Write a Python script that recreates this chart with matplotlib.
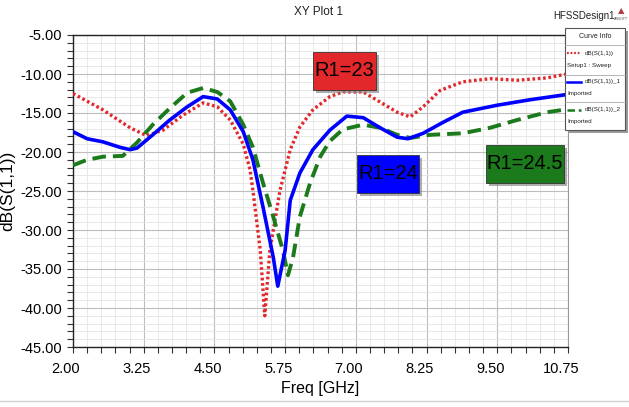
import matplotlib
matplotlib.use("Agg")
import matplotlib.pyplot as plt
from matplotlib.ticker import FixedLocator, MultipleLocator, FormatStrFormatter
from matplotlib.patches import Rectangle
from matplotlib.lines import Line2D
import matplotlib.transforms as mtransforms

plt.rcParams['font.family'] = ['Liberation Sans', 'DejaVu Sans']

# ---- data ----
freq_r1_23 = [2.00, 2.53, 3.01, 3.30, 3.59, 3.94, 4.30, 4.55, 4.78, 5.01, 5.13, 5.18, 5.31, 5.39,
              5.48, 5.66, 5.84, 6.01, 6.24, 6.54, 6.77, 7.13, 7.43, 7.73, 7.96, 8.19, 8.49,
              8.89, 9.37, 9.85, 10.38, 10.66, 10.75]
db_r1_23 = [-12.5, -14.6, -16.9, -17.9, -17.2, -15.3, -13.7, -14.2, -15.9, -19.0, -22.3, -24.9, -32.6, -41.0,
            -32.6, -24.9, -19.7, -16.8, -14.6, -12.9, -12.3, -12.3, -13.6, -14.9, -15.5, -14.2, -12.1,
            -11.0, -10.6, -10.8, -10.5, -10.1, -10.0]

freq_r1_24 = [2.00, 2.25, 2.53, 2.83, 3.01, 3.13, 3.41, 3.71, 4.02, 4.30, 4.55, 4.78, 5.01, 5.18,
              5.36, 5.54, 5.62, 5.75, 5.84, 6.01, 6.24, 6.54, 6.84, 7.13, 7.43, 7.73, 7.92,
              8.19, 8.54, 8.89, 9.50, 10.08, 10.66, 10.75]
db_r1_24 = [-17.4, -18.3, -18.7, -19.4, -19.7, -19.5, -17.8, -15.9, -14.2, -12.9, -13.2, -14.6, -17.4, -21.0,
            -27.1, -33.5, -37.2, -32.6, -26.2, -22.7, -19.7, -17.2, -15.4, -15.6, -16.9, -18.1, -18.3,
            -17.6, -16.2, -14.9, -14.0, -13.3, -12.7, -12.6]

freq_r1_245 = [2.00, 2.25, 2.53, 2.88, 3.13, 3.41, 3.71, 4.02, 4.30, 4.55, 4.78, 5.01, 5.18, 5.36,
               5.54, 5.71, 5.80, 5.89, 6.01, 6.19, 6.37, 6.54, 6.77, 7.13, 7.43, 7.73, 7.96,
               8.31, 8.89, 9.37, 9.85, 10.38, 10.66, 10.75]
db_r1_245 = [-21.7, -21.0, -20.6, -20.5, -18.8, -16.5, -14.4, -12.4, -11.8, -12.3, -13.5, -16.5, -19.4, -24.0,
             -28.3, -32.6, -35.8, -33.5, -28.3, -24.0, -20.6, -18.6, -17.1, -16.5, -16.9, -17.8, -18.2,
             -17.8, -17.6, -16.9, -15.9, -14.9, -14.6, -14.5]

x_limits = [2.00, 10.75]
y_limits = [-45.0, -5.0]
x_ticks = [2.00, 3.25, 4.50, 5.75, 7.00, 8.25, 9.50, 10.75]
y_ticks = [-45.0, -40.0, -35.0, -30.0, -25.0, -20.0, -15.0, -10.0, -5.0]
annot_labels = ["R1=23", "R1=24", "R1=24.5"]
legend_names = ["dB(S(1,1))", "dB(S(1,1))_1", "dB(S(1,1))_2"]
legend_sub = ["Setup1 : Sweep", "Imported", "Imported"]

RED = "#e3282c"
BLUE = "#0000ff"
GREEN = "#1b7a1b"

W, H = 629, 407
fig = plt.figure(figsize=(W / 100, H / 100), dpi=100)
fig.patch.set_facecolor("white")
ax = fig.add_axes([73 / W, 1 - 347 / H, (568 - 73) / W, (347 - 35) / H])

ax.plot(freq_r1_23, db_r1_23, color=RED, lw=2.4, linestyle=(0, (0.8, 0.8)), zorder=3)
ax.plot(freq_r1_24, db_r1_24, color=BLUE, lw=2.6, linestyle="-", zorder=4)
ax.plot(freq_r1_245, db_r1_245, color=GREEN, lw=2.8, linestyle=(0, (3.5, 1.8)), zorder=3)

ax.set_xlim(*x_limits)
ax.set_ylim(*y_limits)
ax.xaxis.set_major_locator(FixedLocator(x_ticks))
ax.xaxis.set_minor_locator(MultipleLocator(0.25))
ax.yaxis.set_major_locator(FixedLocator(y_ticks))
ax.yaxis.set_minor_locator(MultipleLocator(1))
ax.xaxis.set_major_formatter(FormatStrFormatter("%.2f"))
ax.yaxis.set_major_formatter(FormatStrFormatter("%.2f"))

ax.grid(which="major", color="#bdbdbd", lw=0.8)
ax.grid(which="minor", color="#e4e4e4", lw=0.6)
ax.set_axisbelow(True)

ax.tick_params(which="both", direction="out", length=4, width=0.8, color="#333333",
               labelsize=10.5, pad=4)
ax.tick_params(axis="x", which="both", pad=7)
for sp in ["left", "bottom", "top"]:
    ax.spines[sp].set_color("#222222")
    ax.spines[sp].set_linewidth(1.0)
ax.spines["right"].set_color("#999999")

offset = mtransforms.ScaledTranslation(-7 / 100, 0, fig.dpi_scale_trans)
for lab in ax.get_xticklabels():
    lab.set_transform(lab.get_transform() + offset)

ax.set_xlabel("Freq [GHz]", fontsize=11.5)
ax.set_ylabel("dB(S(1,1))", fontsize=12.5)
ax.xaxis.set_label_coords(0.50, -0.108)
ax.yaxis.set_label_coords(-0.117, 0.50)

# annotation boxes (axes-fraction geometry)
ann_boxes = [(0.485, 0.824, 0.127, 0.122), (0.574, 0.494, 0.125, 0.122), (0.834, 0.526, 0.158, 0.122)]
ann_col = [RED, BLUE, GREEN]
sx, sy = 3 / 495, -3 / 312
for lbl, (bx, by, bw, bh), c in zip(annot_labels, ann_boxes, ann_col):
    ax.add_patch(Rectangle((bx + sx, by + sy), bw, bh, transform=ax.transAxes,
                           facecolor="#8a8a8a", edgecolor="none", alpha=0.7, zorder=5))
    ax.add_patch(Rectangle((bx, by), bw, bh, transform=ax.transAxes,
                           facecolor=c, edgecolor="#333333", lw=0.6, zorder=6))
    ax.text(bx + bw / 2, by + bh / 2, lbl, transform=ax.transAxes, fontsize=14.5, color="black",
            ha="center", va="center", zorder=7)

# title and design name
fig.text(318 / W, 1 - 12 / H, "XY Plot 1", fontsize=8.5, ha="center", va="center", color="#222222")
fig.text(584 / W, 1 - 16 / H, "HFSSDesign1", fontsize=7, ha="center", va="center", color="#222222")
fig.text(621 / W, 1 - 11 / H, "\u25B2", fontsize=6, ha="center", va="center", color="#b04040",
         family="DejaVu Sans")
fig.text(621 / W, 1 - 19 / H, "ANSOFT", fontsize=2.5, ha="center", va="center", color="#555555",
         family="DejaVu Sans")

# legend (curve info)
lx0, lx1, ly0, ly1 = 565, 625, 28, 130
fig.add_artist(Rectangle(((lx0 + 3) / W, 1 - (ly1 + 3) / H), (lx1 - lx0) / W, (ly1 - ly0) / H,
                         transform=fig.transFigure, facecolor="#9a9a9a", edgecolor="none", zorder=9))
fig.add_artist(Rectangle((lx0 / W, 1 - ly1 / H), (lx1 - lx0) / W, (ly1 - ly0) / H,
                         transform=fig.transFigure, facecolor="white", edgecolor="#555555",
                         lw=0.8, zorder=10))
fig.text((lx0 + lx1) / 2 / W, 1 - 37 / H, "Curve Info", fontsize=5, ha="center", va="center",
         color="#222222", zorder=11)
for ysep in [45, 75, 102]:
    fig.add_artist(Line2D([lx0 / W, lx1 / W], [1 - ysep / H, 1 - ysep / H], transform=fig.transFigure,
                          color="#aaaaaa", lw=0.6, zorder=11))
entry_y = [53, 82, 110]
entry_styles = [(RED, (0, (0.8, 0.8)), 1.6), (BLUE, "-", 1.8), (GREEN, (0, (3, 1.5)), 1.8)]
for name, sub, ey, (c, ls, lw) in zip(legend_names, legend_sub, entry_y, entry_styles):
    fig.add_artist(Line2D([567 / W, 581 / W], [1 - ey / H, 1 - ey / H], transform=fig.transFigure,
                          color=c, lw=lw, linestyle=ls, zorder=11))
    fig.text(585 / W, 1 - ey / H, name, fontsize=4.5, ha="left", va="center", color="#222222", zorder=11)
    fig.text(567 / W, 1 - (ey + 12) / H, sub, fontsize=4.5, ha="left", va="center", color="#222222",
             zorder=11)

# bottom border line
fig.add_artist(Line2D([0, 1], [1 - 401 / H, 1 - 401 / H], transform=fig.transFigure,
                      color="#d0d0d0", lw=1.0))

fig.savefig("out.png", dpi=100, facecolor="white")
